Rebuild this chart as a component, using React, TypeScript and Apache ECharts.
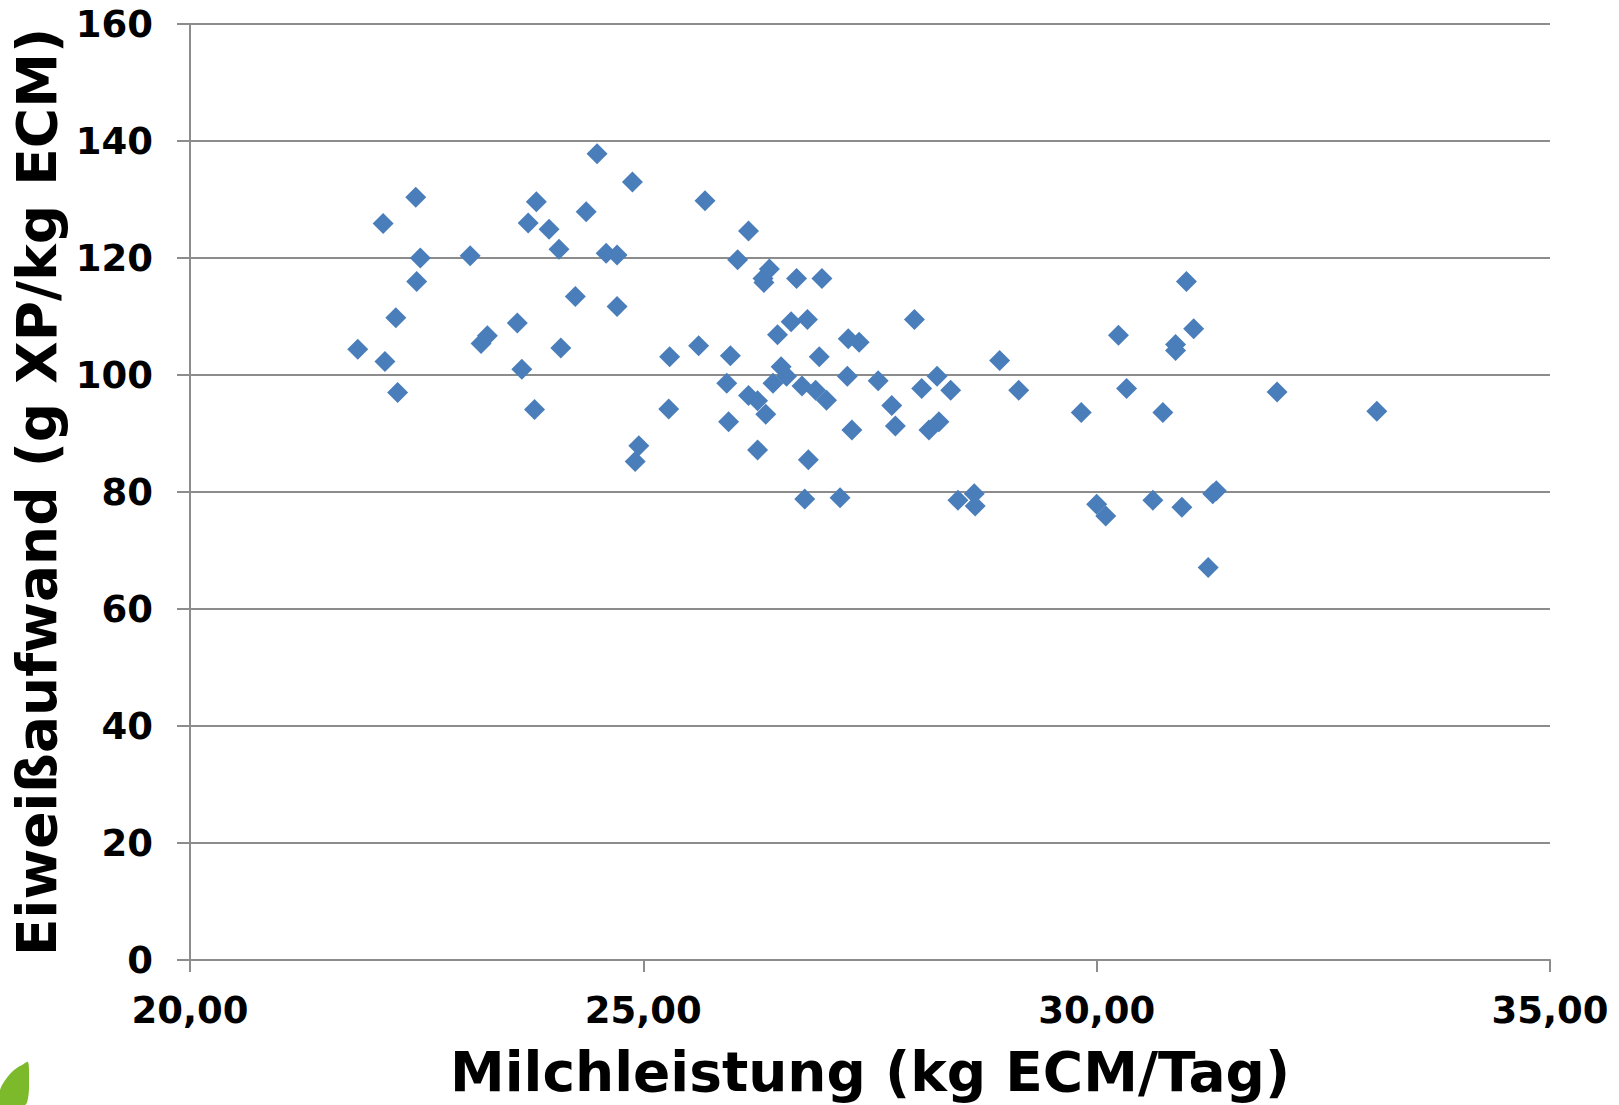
import React, { useEffect, useRef } from "react";
import * as echarts from "echarts";

// Milchleistung (kg ECM/Tag)
const milkYield: number[] = [
  24.49, 24.88, 25.68, 22.49, 22.13, 23.82, 23.73, 24.37, 23.96, 24.07,
  24.59, 24.71, 22.54, 23.09, 22.5, 24.25, 24.71, 22.27, 23.61, 23.28,
  23.21, 21.85, 24.09, 22.15, 23.66, 25.29, 25.61, 25.96, 22.29, 23.8,
  25.28, 24.95, 24.91,
  26.16, 26.04, 26.39, 26.32, 26.33, 26.69, 26.97, 27.99, 26.63, 26.81,
  26.48, 27.26, 27.38, 26.94, 28.93, 26.52, 26.58, 25.92, 26.43, 27.25,
  27.59, 28.24, 26.75, 26.9, 27.02, 28.07, 28.39, 29.14, 26.16, 26.26,
  26.35, 27.74, 25.94, 27.78, 27.3, 28.26, 28.15, 26.26, 26.82, 26.78,
  27.17, 28.47, 28.65, 28.66,
  30.99, 31.07, 30.24, 30.87, 30.87, 30.33, 29.83, 30.73, 31.99, 33.09,
  30.0, 30.1, 30.62, 30.94, 31.28, 31.32, 31.23,
];

// Eiweißaufwand (g XP/kg ECM)
const proteinInput: number[] = [
  137.8, 133.0, 129.8, 130.4, 125.9, 129.6, 126.0, 127.9, 124.9, 121.5,
  120.8, 120.5, 120.0, 120.4, 116.0, 113.4, 111.7, 109.8, 108.9, 106.7,
  105.4, 104.4, 104.6, 102.3, 101.0, 103.1, 105.0, 103.3, 97.0, 94.1,
  94.2, 87.9, 85.2,
  124.6, 119.7, 118.1, 116.5, 115.8, 116.5, 116.5, 109.5, 109.1, 109.5,
  106.9, 106.2, 105.6, 103.1, 102.5, 101.4, 99.8, 98.6, 98.6, 99.8,
  99.0, 99.8, 98.1, 97.4, 95.7, 97.7, 97.4, 97.4, 96.5, 95.6,
  93.3, 94.8, 92.0, 91.3, 90.6, 92.0, 90.6, 87.2, 85.5, 78.8,
  79.0, 78.6, 79.7, 77.6,
  116.0, 107.9, 106.8, 105.2, 104.2, 97.7, 93.6, 93.6, 97.1, 93.8,
  77.9, 75.9, 78.6, 77.4, 79.7, 80.2, 67.1,
];

const xTitle = "Milchleistung (kg ECM/Tag)";
const yTitle = "Eiweißaufwand (g XP/kg ECM)";

const FONT = "'DejaVu Sans', Verdana, sans-serif";
const GRID = "#8c8c8c";

export default function App() {
  const ref = useRef<HTMLDivElement>(null);

  useEffect(() => {
    document.body.style.margin = "0";
    if (!ref.current) return;
    const chart = echarts.init(ref.current, null, { renderer: "svg" });
    const data = milkYield.map((x, i) => [x, proteinInput[i]]);
    chart.setOption({
      animation: false,
      backgroundColor: "#ffffff",
      grid: { left: 190, right: 69, top: 24, bottom: 145, containLabel: false },
      xAxis: {
        type: "value",
        min: 20,
        max: 35,
        interval: 5,
        name: xTitle,
        nameLocation: "middle",
        nameGap: 84,
        nameTextStyle: { fontFamily: FONT, fontWeight: "bold", fontSize: 55, color: "#000" },
        axisLine: { show: true, onZero: false, lineStyle: { color: GRID, width: 2 } },
        axisTick: { show: true, length: 12, lineStyle: { color: GRID, width: 2 } },
        splitLine: { show: false },
        axisLabel: {
          margin: 32,
          fontFamily: FONT,
          fontWeight: "bold",
          fontSize: 37,
          color: "#000",
          formatter: (v: number) => v.toFixed(2).replace(".", ","),
        },
      },
      yAxis: {
        type: "value",
        min: 0,
        max: 160,
        interval: 20,
        name: yTitle,
        nameLocation: "middle",
        nameGap: 126,
        nameTextStyle: { fontFamily: FONT, fontWeight: "bold", fontSize: 55, color: "#000" },
        axisLine: { show: true, lineStyle: { color: GRID, width: 2 } },
        axisTick: { show: true, length: 13, lineStyle: { color: GRID, width: 2 } },
        splitLine: { show: true, lineStyle: { color: GRID, width: 2 } },
        axisLabel: {
          margin: 37,
          fontFamily: FONT,
          fontWeight: "bold",
          fontSize: 37,
          color: "#000",
        },
      },
      graphic: [
        {
          type: "polygon",
          silent: true,
          shape: {
            points: [
              [28, 1062], [29, 1080], [28.5, 1095], [25, 1105], [0, 1105],
              [0, 1090], [6, 1079], [14, 1070], [22, 1065],
            ],
            smooth: 0.3,
          },
          style: { fill: "#7cba2b" },
        },
      ],
      series: [
        {
          type: "scatter",
          data,
          symbol: "diamond",
          symbolSize: 21,
          itemStyle: { color: "#4a7ebb", opacity: 1 },
        },
      ],
    });
    return () => chart.dispose();
  }, []);

  return <div ref={ref} style={{ width: 1619, height: 1105 }} />;
}
